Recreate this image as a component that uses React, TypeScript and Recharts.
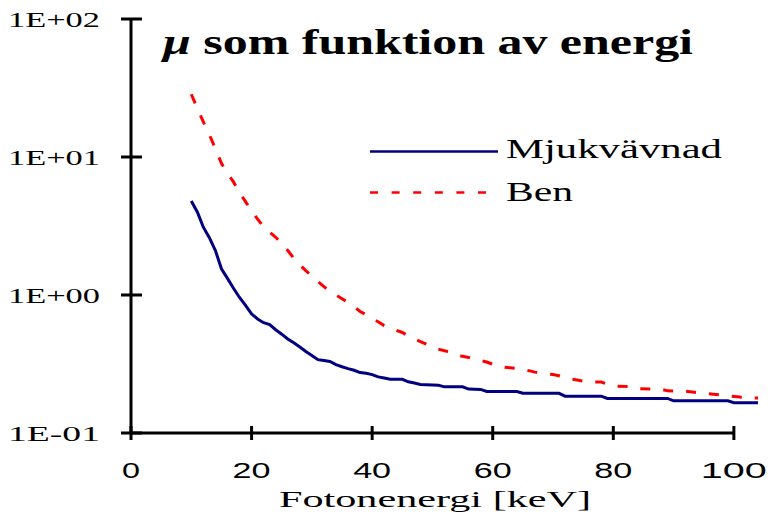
import React from 'react';
import { LineChart, Line, XAxis, YAxis, ReferenceLine } from 'recharts';

// Mjukvävnad (soft tissue), keV and mu
const softEnergy = [10, 11, 12, 13, 14, 15, 16, 17, 18, 19, 20, 21, 22, 23, 24, 25, 26, 27, 28, 29, 30, 31, 32, 33, 34, 35, 36, 37, 38, 39, 40, 41, 42, 43, 45, 46, 47, 48, 51, 52, 55, 56, 58, 59, 64, 65, 71, 72, 78, 79, 89, 90, 99, 100, 104];
const softMu = [4.8, 4.0, 3.1, 2.6, 2.1, 1.55, 1.32, 1.12, 0.96, 0.84, 0.73, 0.67, 0.63, 0.61, 0.56, 0.52, 0.48, 0.45, 0.42, 0.39, 0.365, 0.34, 0.335, 0.33, 0.313, 0.302, 0.293, 0.285, 0.274, 0.271, 0.265, 0.255, 0.25, 0.245, 0.245, 0.235, 0.23, 0.225, 0.222, 0.216, 0.216, 0.208, 0.207, 0.2, 0.2, 0.194, 0.194, 0.185, 0.185, 0.178, 0.178, 0.171, 0.171, 0.166, 0.166];

// Ben (bone)
const boneEnergy = [10, 11, 12, 13, 14, 15, 16, 17, 18, 19, 20, 21, 22, 23, 24, 25, 26, 27, 28, 29, 30, 31, 32, 33, 34, 35, 36, 37, 38, 39, 40, 41, 42, 43, 44, 45, 46, 47, 48, 49, 50, 51, 52, 53, 54, 55, 56, 57, 58, 59, 60, 61, 62, 64, 65, 66, 67, 68, 70, 71, 72, 73, 74, 76, 78, 79, 80, 83, 84, 88, 89, 92, 94, 95, 97, 99, 101, 102, 104];
const boneMu = [28.5, 22.5, 18, 14.5, 11.5, 9.0, 7.6, 6.6, 5.5, 4.75, 4.05, 3.55, 3.12, 2.85, 2.62, 2.38, 2.1, 1.85, 1.65, 1.5, 1.37, 1.25, 1.15, 1.07, 1.0, 0.94, 0.88, 0.82, 0.76, 0.72, 0.67, 0.64, 0.6, 0.575, 0.555, 0.535, 0.505, 0.48, 0.46, 0.44, 0.42, 0.405, 0.395, 0.385, 0.365, 0.36, 0.353, 0.345, 0.335, 0.327, 0.315, 0.308, 0.3, 0.294, 0.288, 0.283, 0.276, 0.27, 0.265, 0.26, 0.253, 0.246, 0.242, 0.234, 0.234, 0.226, 0.219, 0.217, 0.21, 0.207, 0.202, 0.201, 0.196, 0.194, 0.19, 0.186, 0.182, 0.179, 0.179];

const xTicks = [0, 20, 40, 60, 80, 100];
const yTicks = [0.1, 1, 10, 100];
const yTickLabels = ['1E-01', '1E+00', '1E+01', '1E+02'];

const softData = softEnergy.map((e, i) => ({ e, mu: softMu[i] }));
const boneData = boneEnergy.map((e, i) => ({ e, mu: boneMu[i] }));

const SERIF = '"Liberation Serif", "Times New Roman", serif';
const SANS = '"Liberation Sans", Arial, sans-serif';

const YTick = (props: any) => {
  const { x, y, payload } = props;
  const label = yTickLabels[yTicks.indexOf(payload.value)] ?? '';
  return (
    <g>
      <line x1={x + 20} x2={x + 41} y1={y} y2={y} stroke="#000" strokeWidth={3} />
      <text x={x - 93} y={y + 8} fontFamily={SERIF} fontSize={22} fill="#000" textLength={92} lengthAdjust="spacingAndGlyphs">
        {label}
      </text>
    </g>
  );
};

const XTick = (props: any) => {
  const { x, y, payload } = props;
  const label = String(payload.value);
  const w = label.length === 1 ? 18 : label.length === 2 ? 38 : 66;
  return (
    <g>
      <line x1={x} x2={x} y1={y - 14} y2={y} stroke="#000" strokeWidth={3} />
      <text x={x - w / 2} y={y + 38} fontFamily={SANS} fontSize={22} fill="#000" textLength={w} lengthAdjust="spacingAndGlyphs">
        {label}
      </text>
    </g>
  );
};

const App: React.FC = () => {
  return (
    <div style={{ position: 'absolute', left: 0, top: 0, width: 773, height: 516, background: '#fff' }}>
      <LineChart width={773} height={516} margin={{ top: 19, right: 15, bottom: 0, left: 0 }}>
        <XAxis
          type="number"
          dataKey="e"
          domain={[0, 104]}
          ticks={xTicks}
          interval={0}
          axisLine={false}
          tickLine={false}
          tickSize={7}
          tickMargin={0}
          height={83}
          tick={<XTick />}
        />
        <YAxis
          type="number"
          scale="log"
          domain={[0.1, 100]}
          ticks={yTicks}
          interval={0}
          width={131}
          axisLine={{ stroke: '#000', strokeWidth: 3 }}
          tickLine={false}
          tickSize={10}
          tickMargin={20}
          tick={<YTick />}
        />
        <ReferenceLine
          segment={[{ x: 0, y: 0.1 }, { x: 100, y: 0.1 }]}
          stroke="#000"
          strokeWidth={3}
          ifOverflow="visible"
        />
        <Line
          data={softData}
          dataKey="mu"
          type="linear"
          stroke="#000080"
          strokeWidth={3}
          dot={false}
          isAnimationActive={false}
        />
        <Line
          data={boneData}
          dataKey="mu"
          type="linear"
          stroke="#ff0000"
          strokeWidth={3}
          strokeDasharray="10 13"
          dot={false}
          isAnimationActive={false}
        />
      </LineChart>
      <svg width={773} height={516} style={{ position: 'absolute', left: 0, top: 0, pointerEvents: 'none' }}>
        <text x={163} y={54} fontFamily={SERIF} fontSize={36} fontWeight="bold" fill="#000" textLength={530} lengthAdjust="spacingAndGlyphs">
          <tspan fontStyle="italic">μ</tspan> som funktion av energi
        </text>
        <line x1={370} x2={498} y1={151.5} y2={151.5} stroke="#000080" strokeWidth={2.5} />
        <text x={506} y={158} fontFamily={SERIF} fontSize={27} fill="#000" textLength={216} lengthAdjust="spacingAndGlyphs">
          Mjukvävnad
        </text>
        <line x1={370} x2={486} y1={192.5} y2={192.5} stroke="#ff0000" strokeWidth={2.5} strokeDasharray="8 13.6" />
        <text x={506} y={201} fontFamily={SERIF} fontSize={27} fill="#000" textLength={67} lengthAdjust="spacingAndGlyphs">
          Ben
        </text>
        <text x={279} y={507} fontFamily={SERIF} fontSize={24} fill="#000" textLength={312} lengthAdjust="spacingAndGlyphs">
          Fotonenergi [keV]
        </text>
      </svg>
    </div>
  );
};

export default App;
